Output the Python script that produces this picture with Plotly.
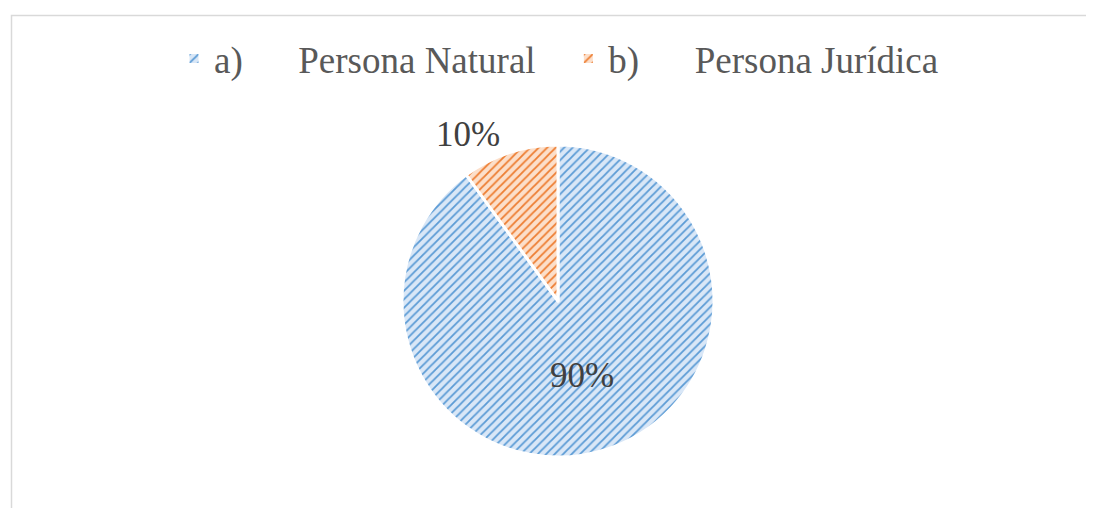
import plotly.graph_objects as go

labels = ["a)&nbsp;&nbsp;&nbsp;&nbsp;&nbsp;&nbsp;Persona Natural&nbsp;&nbsp;&nbsp;", "b)&nbsp;&nbsp;&nbsp;&nbsp;&nbsp;&nbsp;Persona Jurídica"]
values = [90, 10]
fg_colors = ["#5b9bd5", "#ed7d31"]
bg_colors = ["#d9e7f7", "#fcdfca"]

W, H = 1094, 508
OX, OY = 8, 8  # page body margin offset
FONT = "Liberation Serif"


def px(x):
    return (x - OX) / W


def py(y):
    return 1 - (y - OY) / H


fig = go.Figure(go.Pie(
    labels=labels,
    values=values,
    sort=False,
    direction="clockwise",
    rotation=0,
    textinfo="percent",
    texttemplate="%{percent:.0%}",
    textposition=["inside", "outside"],
    insidetextorientation="horizontal",
    textfont=dict(family=FONT, size=35, color="#404040"),
    marker=dict(
        colors=bg_colors,
        line=dict(color="white", width=3),
        pattern=dict(shape="/", fgcolor=fg_colors, bgcolor=bg_colors, size=6, solidity=0.3),
    ),
    domain=dict(x=[px(402), px(714)], y=[py(457), py(145)]),
    hoverinfo="label+percent",
))

fig.update_layout(
    width=W, height=H,
    margin=dict(l=0, r=0, t=0, b=0),
    paper_bgcolor="white",
    plot_bgcolor="white",
    font=dict(family=FONT, size=35, color="#595959"),
    showlegend=True,
    legend=dict(
        orientation="h",
        x=px(559), xanchor="center",
        y=py(59), yanchor="middle",
        font=dict(family=FONT, size=37, color="#595959"),
        bgcolor="rgba(0,0,0,0)",
    ),
    shapes=[dict(
        type="rect", xref="paper", yref="paper",
        x0=px(11.5), x1=1.2, y0=-0.2, y1=py(15.5),
        line=dict(color="#d9d9d9", width=1.5),
        fillcolor="rgba(0,0,0,0)",
        layer="below",
    )],
)

fig.write_html("out.html")
